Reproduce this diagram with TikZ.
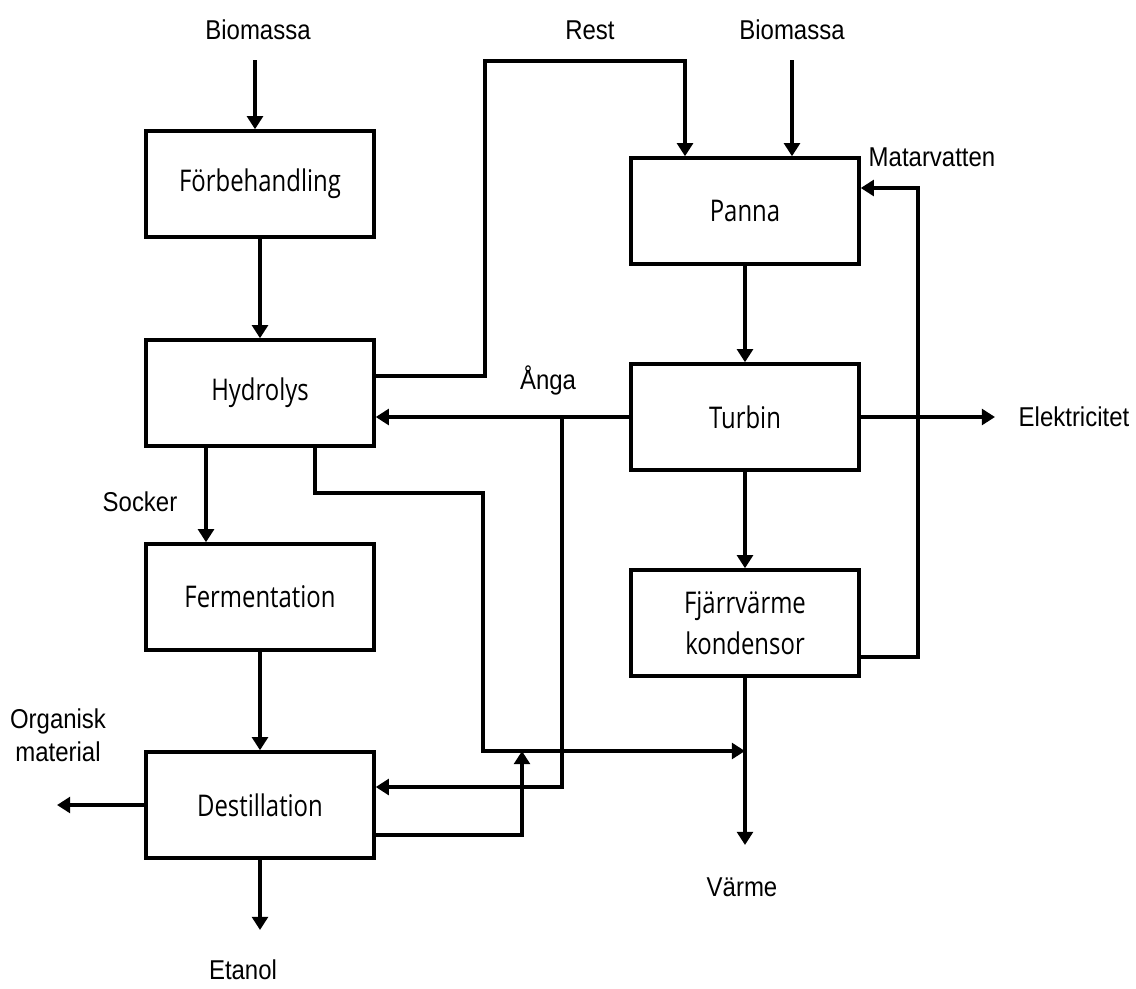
\documentclass[tikz,border=0pt]{standalone}
\usepackage{fontspec}
\usepackage{tikz}
\usetikzlibrary{arrows.meta, positioning}
\newfontfamily\blokfont[FakeStretch=0.8]{Open Sans}
\newfontfamily\etikfont[FakeStretch=0.88]{Liberation Sans}

\tikzset{
    blok/.style={draw, line width=2pt, minimum width=4.56cm, minimum height=2.12cm,
        align=center, font=\blokfont\fontsize{17}{23}\selectfont},
    etikett/.style={align=center, font=\etikfont\fontsize{15.5}{19}\selectfont},
    pil/.style={line width=2pt, -{Triangle[width=9pt,length=7.5pt]}},
    linje/.style={line width=2pt}
}

\begin{document}
\begin{tikzpicture}[x=0.02cm, y=-0.02cm]
    \useasboundingbox (0,0) rectangle (1136,988);

    % Etanol-linjen
    \node[blok] (forb) at (260,184) {Förbehandling};
    \node[blok] (hydro) at (260,393) {Hydrolys};
    \node[blok] (ferm) at (260,597) {Fermentation};
    \node[blok] (dest) at (260,805) {Destillation};

    % Kraftvärme
    \node[blok] (panna) at (745,211) {Panna};
    \node[blok] (turbin) at (745,417) {Turbin};
    \node[blok] (fjarr) at (745,623) {Fjärrvärme\\kondensor};

    % Etiketter
    \node[etikett] (bio1) at (258,30) {Biomassa};
    \node[etikett] (rest) at (590,30) {Rest};
    \node[etikett] (bio2) at (792,30) {Biomassa};
    \node[etikett] (matar) at (932,157) {Matarvatten};
    \node[etikett] (anga) at (548,380) {Ånga};
    \node[etikett] (el) at (1074,417) {Elektricitet};
    \node[etikett] (socker) at (140,502) {Socker};
    \node[etikett] (org) at (58,735) {Organisk\\material};
    \node[etikett] (etanol) at (243,970) {Etanol};
    \node[etikett] (varme) at (742,887) {Värme};

    % Hjälppunkter
    \coordinate (b1start) at (255,60);
    \coordinate (b2start) at (792,60);
    \coordinate (restvag) at (485,61);
    \coordinate (angavag) at (562,417);
    \coordinate (rejekt) at (483,493);
    \coordinate (samman) at (522,751);
    \coordinate (matarvag) at (918,188);
    \coordinate (elslut) at (995,417);
    \coordinate (orgslut) at (57,805);
    \coordinate (etslut) at (260,930);
    \coordinate (varmslut) at (745,845);

    % Pilar, vänster kolumn
    \draw[pil] (b1start) -- (b1start |- forb.north);
    \draw[pil] (forb.south) -- (hydro.north);
    \draw[pil] ([xshift=-1.08cm]hydro.south) -- ([xshift=-1.08cm]ferm.north);
    \draw[pil] (ferm.south) -- (dest.north);
    \draw[pil] (dest.south) -- (etslut);
    \draw[pil] (dest.west) -- (orgslut);

    % Pilar, höger kolumn
    \draw[pil] ([yshift=0.34cm]hydro.east) -| (restvag) -| ([xshift=-1.2cm]panna.north);
    \draw[pil] (b2start) -- (b2start |- panna.north);
    \draw[pil] (panna.south) -- (turbin.north);
    \draw[pil] (turbin.south) -- (fjarr.north);
    \draw[pil] (turbin.east) -- (elslut);
    \draw[pil] ([yshift=-0.68cm]fjarr.east) -| (matarvag) -- (matarvag -| panna.east);
    \draw[pil] (fjarr.south) -- (varmslut);

    % Ånga och returflöden
    \draw[pil] (turbin.west) -- (turbin.west -| hydro.east);
    \draw[pil] (angavag) |- ([yshift=0.36cm]dest.east);
    \draw[pil] ([xshift=1.1cm]hydro.south) |- (rejekt) |- (fjarr.south |- samman);
    \draw[pil] ([yshift=-0.6cm]dest.east) -| (samman);
\end{tikzpicture}
\end{document}
